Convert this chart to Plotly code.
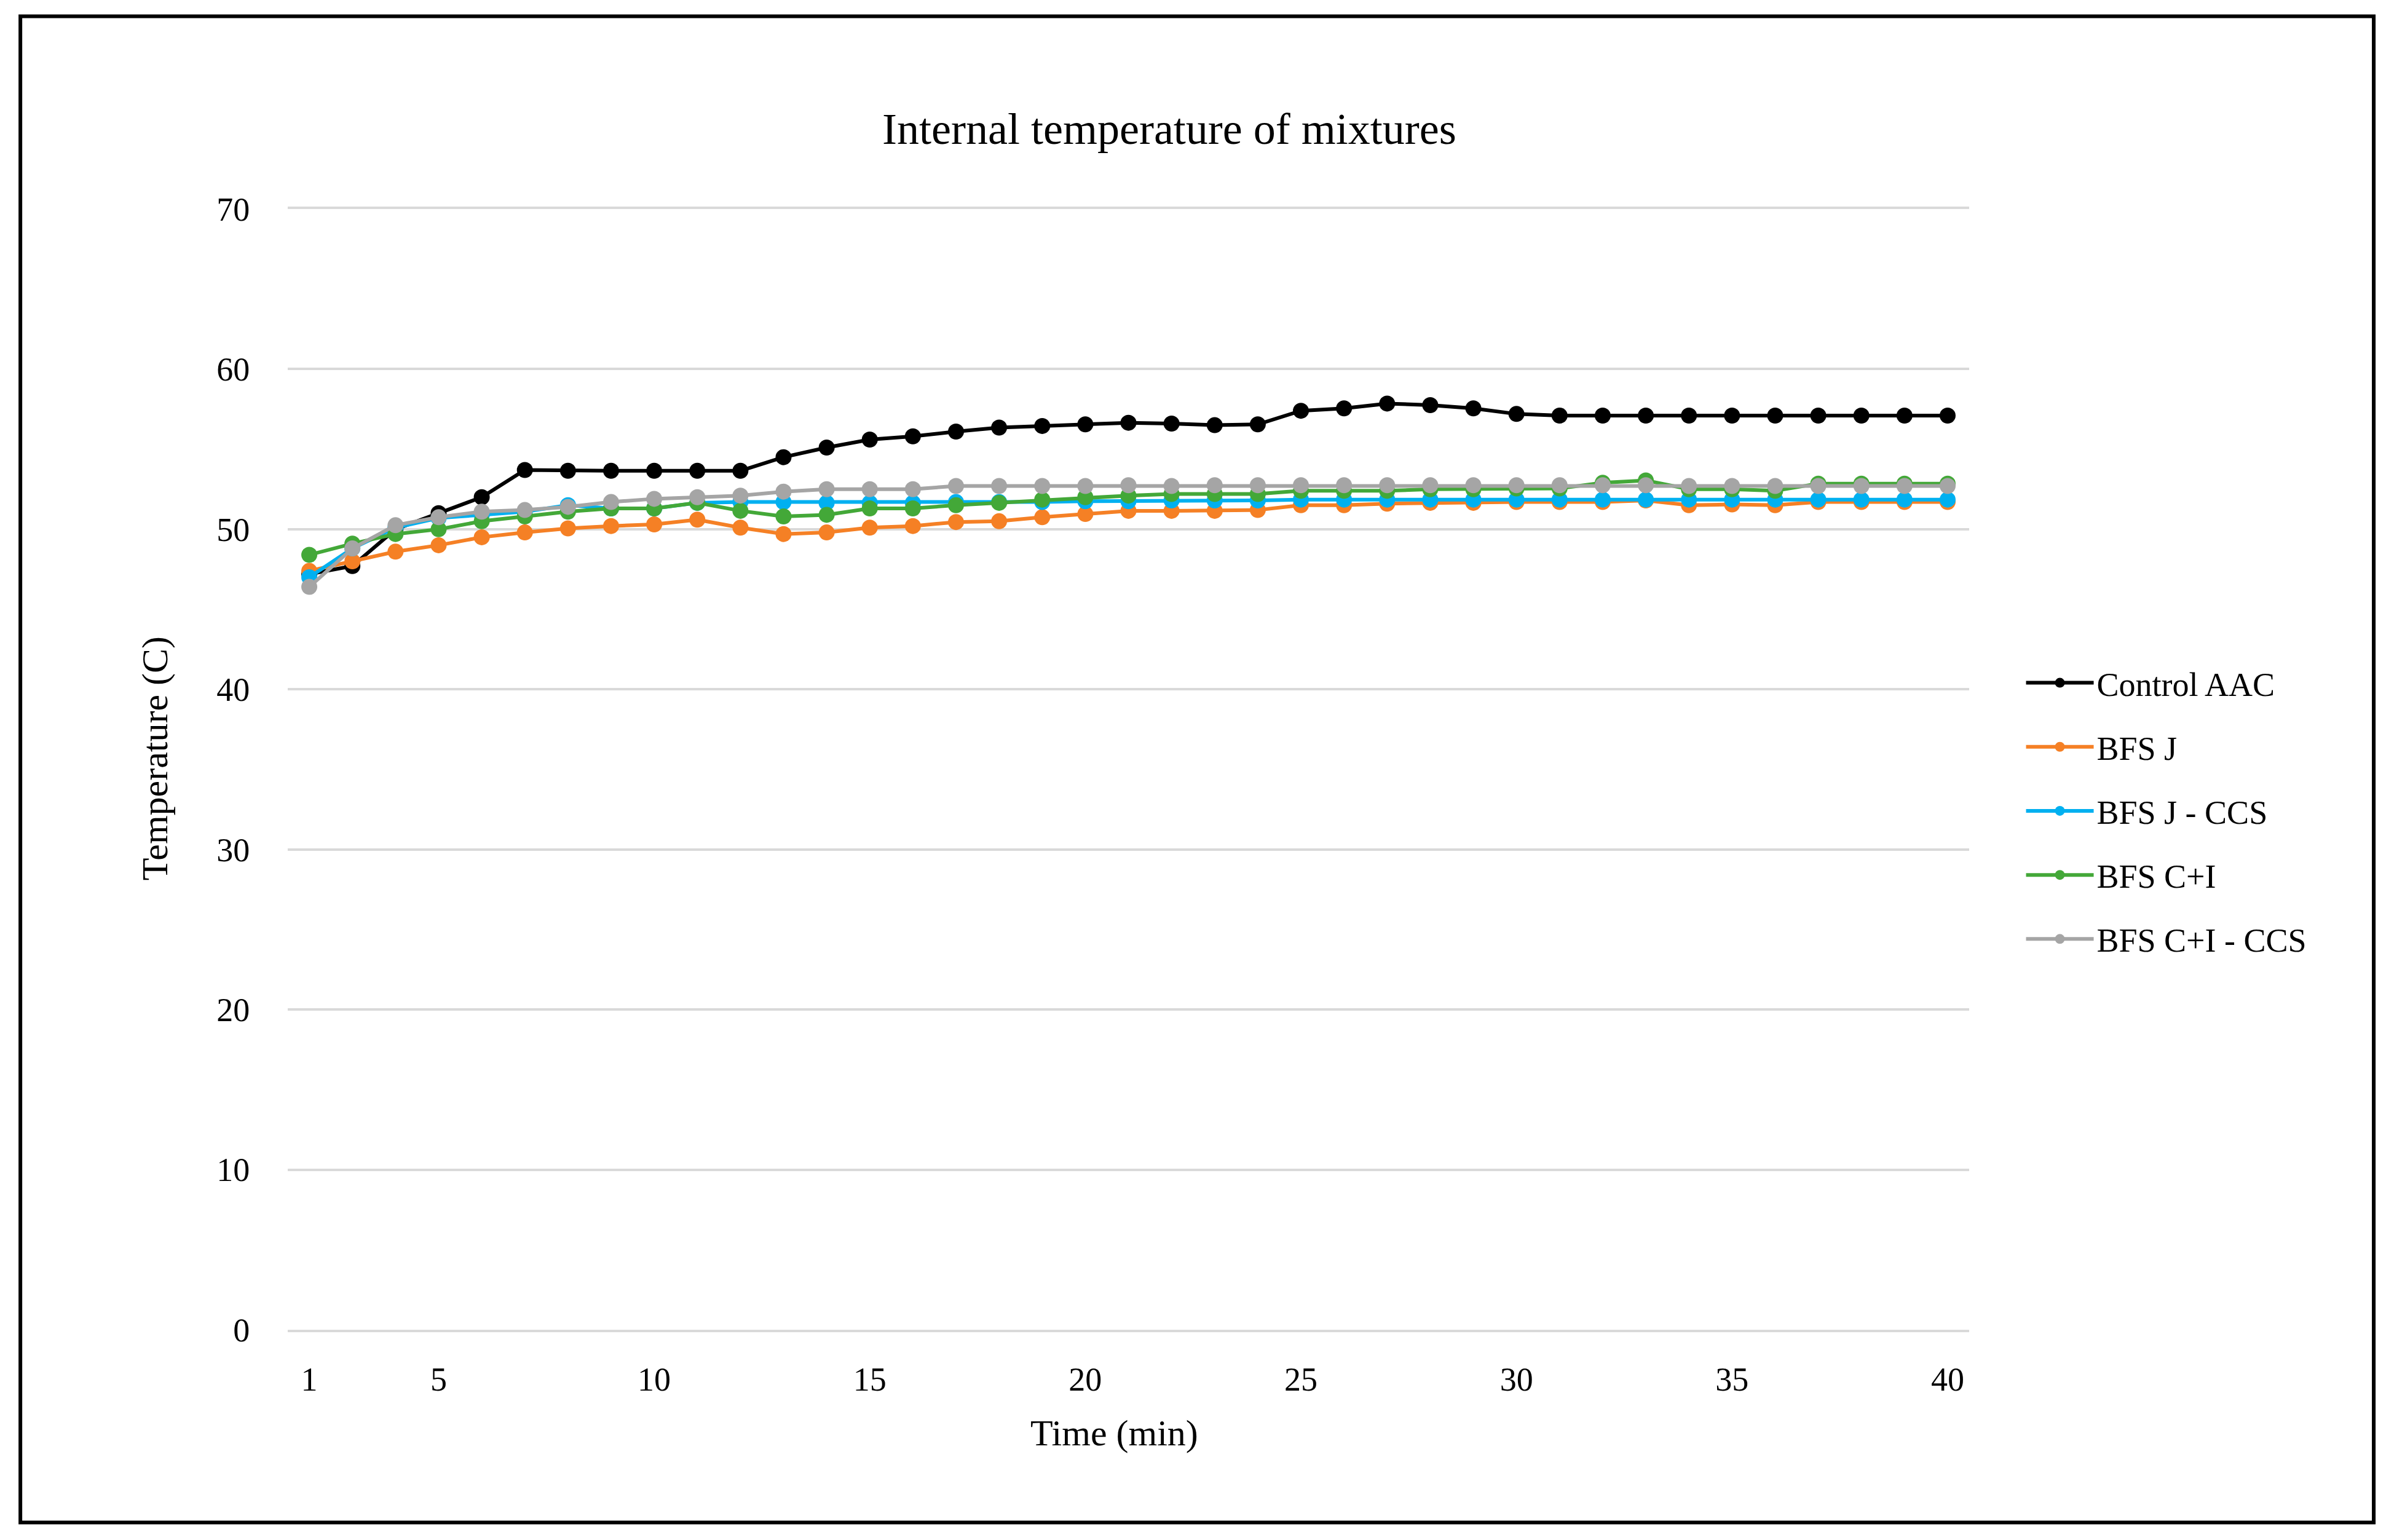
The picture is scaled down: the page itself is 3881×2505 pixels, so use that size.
import plotly.graph_objects as go

# time axis (min) - the picture shows 39 points, labelled 1, 5, 10 ... 40
time_min = ["1", "3", "4", "5", "6", "7", "8", "9", "10", "11", "12", "13", "14",
            "15", "16", "17", "18", "19", "20", "21", "22", "23", "24", "25", "26",
            "27", "28", "29", "30", "31", "32", "33", "34", "35", "36", "37", "38",
            "39", "40"]
tick_labels = ["1", "5", "10", "15", "20", "25", "30", "35", "40"]

control_aac = [47.2, 47.7, 50.0, 51.0, 52.0, 53.7, 53.65, 53.65, 53.65, 53.65, 53.65,
               54.5, 55.1, 55.6, 55.8, 56.1, 56.35, 56.45, 56.55, 56.65, 56.6, 56.5,
               56.55, 57.4, 57.55, 57.85, 57.75, 57.55, 57.2, 57.1, 57.1, 57.1, 57.1,
               57.1, 57.1, 57.1, 57.1, 57.1, 57.1]
bfs_j = [47.4, 48.0, 48.6, 49.0, 49.5, 49.8, 50.05, 50.2, 50.3, 50.6, 50.1, 49.7,
         49.8, 50.1, 50.2, 50.45, 50.5, 50.75, 50.95, 51.15, 51.15, 51.15, 51.2, 51.5,
         51.5, 51.6, 51.65, 51.65, 51.7, 51.7, 51.7, 51.8, 51.5, 51.55, 51.5, 51.7,
         51.7, 51.7, 51.7]
bfs_j_ccs = [47.0, 48.8, 50.1, 50.7, 50.9, 51.1, 51.5, 51.3, 51.3, 51.65, 51.7, 51.7,
             51.65, 51.65, 51.65, 51.7, 51.7, 51.7, 51.75, 51.75, 51.8, 51.8, 51.8,
             51.85, 51.85, 51.85, 51.85, 51.85, 51.85, 51.85, 51.85, 51.85, 51.85,
             51.85, 51.85, 51.85, 51.85, 51.85, 51.85]
bfs_ci = [48.4, 49.1, 49.7, 50.0, 50.5, 50.8, 51.1, 51.3, 51.3, 51.65, 51.15, 50.8,
          50.9, 51.3, 51.3, 51.5, 51.65, 51.85, 52.0, 52.1, 52.2, 52.2, 52.2, 52.4,
          52.4, 52.4, 52.5, 52.5, 52.55, 52.55, 52.9, 53.05, 52.5, 52.5, 52.4, 52.85,
          52.85, 52.85, 52.85]
bfs_ci_ccs = [46.4, 48.8, 50.25, 50.75, 51.1, 51.2, 51.4, 51.7, 51.9, 52.0, 52.1,
              52.35, 52.5, 52.5, 52.5, 52.7, 52.7, 52.7, 52.7, 52.75, 52.7, 52.75,
              52.75, 52.75, 52.75, 52.75, 52.75, 52.75, 52.75, 52.75, 52.75, 52.75,
              52.7, 52.7, 52.7, 52.7, 52.7, 52.7, 52.7]

series = [
    ("Control AAC", control_aac, "#000000"),
    ("BFS J", bfs_j, "#F58025"),
    ("BFS J - CCS", bfs_j_ccs, "#00B0F0"),
    ("BFS C+I", bfs_ci, "#43A838"),
    ("BFS C+I - CCS", bfs_ci_ccs, "#A5A5A5"),
]

FONT = "Liberation Serif, Times New Roman, serif"

fig = go.Figure()
for name, vals, col in series:
    fig.add_trace(go.Scatter(
        x=time_min, y=vals, name=name, mode="lines+markers",
        line=dict(color=col, width=6),
        marker=dict(color=col, size=26),
        legendgroup=name,
    ))

fig.update_layout(
    width=3881, height=2505,
    margin=dict(l=460, r=686, t=332, b=350),
    paper_bgcolor="white", plot_bgcolor="white",
    font=dict(family=FONT, size=54, color="#000000"),
    title=dict(text="Internal temperature of mixtures", font=dict(size=72),
               x=0.488, xref="container", y=0.92, yref="container",
               xanchor="center", yanchor="middle"),
    legend=dict(x=1.032, y=0.463, xanchor="left", yanchor="middle",
                font=dict(size=54), traceorder="grouped", tracegroupgap=31,
                itemwidth=110, bgcolor="rgba(0,0,0,0)"),
    showlegend=True,
)

fig.update_xaxes(
    type="category", categoryorder="array", categoryarray=time_min,
    range=[-0.5, len(time_min) - 0.5],
    tickmode="array", tickvals=tick_labels, ticktext=tick_labels,
    showgrid=False, zeroline=False,
    showline=True, linecolor="#D9D9D9", linewidth=4, mirror=True,
    ticks="outside", ticklen=30, tickcolor="rgba(0,0,0,0)",
)
fig.update_yaxes(
    range=[0, 70], dtick=10, tick0=0,
    showgrid=True, gridcolor="#D9D9D9", gridwidth=4,
    showline=False, zeroline=False,
    ticks="outside", ticklen=50, tickcolor="rgba(0,0,0,0)",
)

# axis titles
fig.add_annotation(text="Time (min)", xref="paper", yref="paper",
                   x=0.4915, y=-0.092, showarrow=False,
                   xanchor="center", yanchor="middle", font=dict(size=60))
fig.add_annotation(text="Temperature (C)", xref="paper", yref="paper",
                   x=-0.079, y=0.51, showarrow=False, textangle=-90,
                   xanchor="center", yanchor="middle", font=dict(size=60))

# outer frame of the chart
fig.add_shape(type="rect", xref="paper", yref="paper",
              x0=-0.159, x1=1.2406, y0=-0.172, y1=1.172,
              line=dict(color="#000000", width=6), fillcolor="rgba(0,0,0,0)",
              layer="above")

fig.write_html("out.html")
